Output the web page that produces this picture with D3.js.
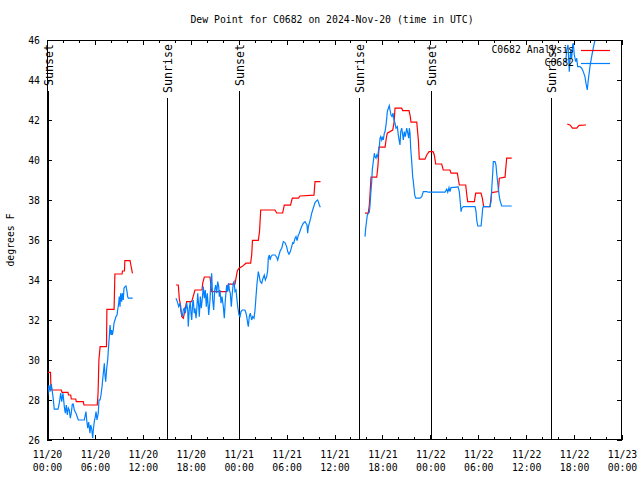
<!DOCTYPE html>
<html><head><meta charset="utf-8">
<script src="https://cdn.jsdelivr.net/npm/d3@7"></script>
<style>
body{margin:0;background:#fff}
svg{display:block}
text{font-family:"DejaVu Sans Mono","Liberation Mono",monospace;font-size:9.8px;fill:#000}
</style>
</head><body>
<svg id="chart" width="640" height="480"></svg>
<script>
// ---------------- data ----------------
const chartTitle = "Dew Point for C0682 on 2024-Nov-20 (time in UTC)";
const yAxisTitle = "degrees F";
const seriesNames = ["C0682 Analysis", "C0682"];
const seriesColors = ["#ff0000", "#0080ff"];
const startTimeUTC = "2024-11-20T00:00:00Z";
const spanHours = 72;
const yTickValues = [26, 28, 30, 32, 34, 36, 38, 40, 42, 44, 46];
const sunsetHours = [0.07, 24.05, 48.05];
const sunriseHours = [15.03, 39.07, 63.1];

// [hours since start, dew point F]
const analysisSeg1 = [[0.0,29.38],[0.44,29.38],[0.5,28.5],[1.79,28.5],[1.88,28.38],[2.63,28.38],[2.69,28.25],[2.97,28.25],[3.04,28.05],[3.6,28.05],[3.67,27.92],[4.55,27.92],[4.63,27.75],[6.3,27.75],[6.4,28.4],[6.5,30.0],[6.65,30.67],[7.45,30.67],[7.5,32.53],[8.4,32.53],[8.5,34.3],[9.4,34.3],[9.45,34.45],[9.7,34.45],[9.75,34.97],[10.4,34.97],[10.5,34.75],[10.7,34.33]];
const analysisSeg2 = [[16.15,33.75],[16.44,33.75],[16.57,33.04],[16.72,32.75],[16.87,32.17],[17.07,32.09],[17.28,32.5],[17.49,32.92],[18.12,32.92],[18.53,33.5],[19.41,33.5],[19.5,33.84],[19.7,34.15],[20.41,34.15],[20.62,33.42],[22.5,33.42],[22.7,33.79],[23.54,33.79],[23.67,34.1],[23.83,34.45],[24.04,34.59],[24.42,34.67],[24.92,34.84],[25.5,34.84],[25.63,35.25],[25.73,35.98],[26.46,35.98],[26.61,36.42],[26.76,37.5],[28.55,37.5],[28.76,37.35],[29.51,37.35],[29.71,37.74],[30.49,37.74],[30.72,38.09],[31.49,38.09],[31.68,38.2],[33.43,38.24],[33.56,38.92],[34.25,38.92]];
const analysisSeg3 = [[39.82,37.34],[40.23,37.34],[40.36,37.75],[40.48,38.5],[40.57,39.14],[41.29,39.14],[41.45,39.75],[41.57,40.64],[42.33,40.64],[42.49,41.1],[42.61,41.34],[43.29,41.5],[43.45,41.84],[43.58,42.59],[44.42,42.59],[44.54,42.47],[45.33,42.47],[45.46,42.25],[45.58,41.89],[46.3,41.89],[46.5,41.0],[46.62,40.04],[47.33,40.04],[47.55,40.25],[47.84,40.42],[48.34,40.42],[48.5,40.25],[48.67,39.8],[49.42,39.8],[49.62,39.5],[50.46,39.5],[50.59,39.34],[51.38,39.34],[51.63,38.75],[52.43,38.75],[52.59,38.17],[52.68,37.92],[53.51,37.92],[53.68,38.34],[54.35,38.34],[54.51,38.09],[54.68,37.67],[55.47,37.67],[55.68,38.37],[56.51,38.42],[56.64,39.09],[57.35,39.14],[57.56,40.09],[58.19,40.09]];
const analysisSeg4 = [[65.15,41.79],[65.49,41.75],[65.8,41.59],[66.33,41.59],[66.62,41.73],[67.5,41.75]];

const obsSeg1 = [[0.04,28.1],[0.25,28.75],[0.38,28.42],[0.54,28.8],[0.75,28.17],[0.91,27.54],[1.38,27.54],[1.5,27.75],[1.72,28.34],[1.84,27.92],[2.0,28.34],[2.17,27.67],[2.29,27.34],[2.42,27.75],[2.54,27.25],[2.67,27.6],[2.79,27.5],[2.92,27.09],[3.04,27.35],[3.17,27.79],[3.29,27.79],[3.42,27.5],[3.63,27.34],[3.92,27.0],[4.67,27.0],[4.88,27.42],[4.97,27.0],[5.1,26.59],[5.22,26.9],[5.38,26.34],[5.47,26.75],[5.6,26.55],[5.72,26.09],[5.8,26.5],[5.92,26.92],[6.05,27.17],[6.14,27.42],[6.26,27.0],[6.42,27.34],[6.51,28.0],[6.64,28.0],[6.76,28.25],[6.89,28.67],[6.97,29.0],[7.05,29.34],[7.18,29.84],[7.26,29.25],[7.35,28.92],[7.48,29.6],[7.6,30.0],[7.68,30.5],[7.8,31.17],[7.89,31.75],[8.01,31.25],[8.1,31.5],[8.18,31.25],[8.3,31.5],[8.39,31.84],[8.51,32.0],[8.64,32.17],[8.77,32.25],[8.85,32.5],[8.98,32.84],[9.05,33.17],[9.14,32.67],[9.23,33.34],[9.35,32.92],[9.43,33.34],[9.55,33.0],[9.64,33.59],[9.77,33.67],[9.89,33.7],[10.02,33.42],[10.1,33.17],[10.18,33.09],[10.73,33.09]];
const obsSeg2 = [[16.15,33.09],[16.32,32.92],[16.49,32.67],[16.65,32.84],[16.78,32.42],[16.94,32.17],[17.07,32.5],[17.19,32.59],[17.32,32.34],[17.49,32.84],[17.62,32.5],[17.69,31.67],[17.82,32.59],[17.94,32.92],[18.03,32.34],[18.12,32.0],[18.24,32.84],[18.32,33.0],[18.44,32.34],[18.53,32.59],[18.66,32.09],[18.75,32.5],[18.87,33.34],[19.0,32.67],[19.07,32.17],[19.2,33.17],[19.32,32.59],[19.45,33.09],[19.57,33.67],[19.7,33.09],[19.82,33.5],[19.95,32.67],[20.07,33.34],[20.25,32.25],[20.41,33.0],[20.5,33.75],[20.62,34.34],[20.75,33.0],[20.87,32.5],[21.0,33.5],[21.12,33.75],[21.25,33.34],[21.37,33.92],[21.5,33.67],[21.58,33.17],[21.66,33.5],[21.79,32.84],[21.91,33.17],[22.08,32.67],[22.2,32.09],[22.33,33.0],[22.5,33.75],[22.63,33.42],[22.75,33.84],[22.83,33.5],[22.95,33.34],[23.08,32.67],[23.2,33.34],[23.33,33.84],[23.42,33.92],[23.54,33.42],[23.67,33.5],[23.75,33.17],[23.88,32.67],[24.04,32.25],[24.17,32.17],[24.29,32.42],[24.46,32.5],[24.79,32.5],[24.92,32.34],[25.01,32.17],[25.13,31.84],[25.21,31.67],[25.33,32.17],[25.46,32.34],[25.63,32.0],[25.76,32.17],[25.92,32.09],[26.05,32.5],[26.17,33.17],[26.3,33.84],[26.46,34.42],[26.59,34.17],[26.71,33.92],[26.89,33.84],[27.05,34.09],[27.21,34.25],[27.34,34.0],[27.51,34.17],[27.64,34.5],[27.71,35.09],[27.84,35.25],[27.93,35.0],[28.05,35.17],[28.21,35.25],[28.55,35.25],[28.76,35.14],[28.89,35.0],[29.05,35.25],[29.21,35.47],[29.39,35.59],[29.59,35.92],[29.8,35.87],[30.01,35.67],[30.14,35.42],[30.3,35.29],[30.47,35.42],[30.64,35.67],[30.77,35.87],[30.89,35.84],[31.06,36.09],[31.18,36.17],[31.31,35.97],[31.47,36.25],[31.6,36.34],[31.72,36.5],[31.89,36.67],[32.09,36.84],[32.31,36.92],[32.43,36.84],[32.56,36.75],[32.64,36.34],[32.72,36.64],[32.85,36.84],[33.02,37.09],[33.15,37.34],[33.27,37.5],[33.43,37.7],[33.56,37.87],[33.77,37.97],[33.89,38.0],[33.97,37.92],[34.1,37.75],[34.22,37.64]];
const obsSeg3 = [[39.82,36.17],[39.91,36.6],[40.03,37.0],[40.11,37.25],[40.23,37.34],[40.36,37.39],[40.45,37.75],[40.53,38.25],[40.66,38.92],[40.73,39.5],[40.86,39.92],[40.99,40.34],[41.07,40.17],[41.2,40.09],[41.29,40.25],[41.41,40.17],[41.49,40.42],[41.62,40.67],[41.7,41.09],[41.79,41.17],[41.91,41.0],[42.04,41.17],[42.11,41.0],[42.24,41.34],[42.33,41.42],[42.45,41.75],[42.54,42.09],[42.61,42.42],[42.74,42.59],[42.86,42.72],[42.95,42.5],[43.08,42.25],[43.2,42.17],[43.33,42.34],[43.45,42.0],[43.58,41.84],[43.7,41.59],[43.87,41.67],[43.99,41.25],[44.12,40.92],[44.2,40.75],[44.29,41.42],[44.42,41.59],[44.54,41.25],[44.62,41.0],[44.74,41.42],[44.87,41.17],[45.04,41.59],[45.17,41.34],[45.29,41.09],[45.37,41.59],[45.46,41.34],[45.54,40.59],[45.67,39.92],[45.79,39.17],[45.87,38.92],[45.96,38.59],[46.04,38.25],[46.17,38.09],[46.71,38.09],[46.92,38.17],[47.12,38.42],[47.55,38.42],[47.75,38.39],[49.84,38.39],[50.05,38.54],[50.18,38.39],[50.34,38.62],[50.46,38.42],[50.59,38.62],[51.3,38.64],[51.46,38.67],[51.63,38.42],[51.76,37.84],[51.85,37.42],[51.94,37.59],[52.14,37.67],[53.6,37.67],[53.72,37.42],[53.81,37.0],[53.94,36.7],[54.35,36.7],[54.43,37.0],[54.56,37.59],[54.64,37.67],[55.47,37.67],[55.6,37.92],[55.68,38.5],[55.81,39.34],[55.89,39.92],[56.1,39.92],[56.22,39.75],[56.31,39.34],[56.44,38.84],[56.51,38.59],[56.64,38.17],[56.76,37.92],[56.94,37.7],[58.19,37.7]];
const obsSeg4 = [[64.95,44.85],[65.07,45.5],[65.24,45.75],[65.4,44.42],[65.57,45.5],[65.7,45.09],[65.82,45.75],[65.9,45.84],[66.03,45.25],[66.2,44.92],[66.33,45.09],[66.45,44.67],[66.74,44.67],[66.95,44.59],[67.15,44.42],[67.36,44.17],[67.49,43.84],[67.65,43.5],[67.78,44.0],[67.99,44.67],[68.2,45.17],[68.4,45.59],[68.62,46.0],[68.87,46.25],[69.25,46.2]];

const analysisSegments = [analysisSeg1, analysisSeg2, analysisSeg3, analysisSeg4];
const obsSegments = [obsSeg1, obsSeg2, obsSeg3, obsSeg4];

// ---------------- layout ----------------
const L = 47, R = 622, T = 40, B = 440;
const svg = d3.select("#chart");
const t0 = new Date(startTimeUTC);
const hourToDate = h => new Date(t0.getTime() + h * 3600e3);
const x = d3.scaleUtc().domain([t0, hourToDate(spanHours)]).range([L, R]);
const y = d3.scaleLinear().domain([26, 46]).range([B, T]);

svg.append("rect").attr("width", 640).attr("height", 480).attr("fill", "#fff");

svg.append("defs").append("clipPath").attr("id", "plotclip")
  .append("rect").attr("x", L).attr("y", T).attr("width", R - L).attr("height", B - T);

// axes
const fmtDay = d3.utcFormat("%m/%d"), fmtHM = d3.utcFormat("%H:%M");
const majorTicks = d3.utcHour.every(6).range(t0, hourToDate(spanHours + 0.01));
const minorTicks = d3.utcHour.every(2).range(t0, hourToDate(spanHours + 0.01));

const gx = svg.append("g").attr("transform", `translate(0,${B})`)
  .call(d3.axisBottom(x).tickValues(majorTicks).tickSize(-5).tickPadding(9).tickFormat(""));
gx.selectAll(".tick text").each(function(d){
  const t = d3.select(this).text(null).attr("dy", null).attr("y", 18);
  t.append("tspan").attr("x", 0).text(fmtDay(d));
  t.append("tspan").attr("x", 0).attr("y", 31).text(fmtHM(d));
});
svg.append("g").attr("transform", `translate(0,${B})`)
  .call(d3.axisBottom(x).tickValues(minorTicks).tickSize(-3).tickFormat(""));
svg.append("g").attr("transform", `translate(0,${T})`)
  .call(d3.axisTop(x).tickValues(majorTicks).tickSize(-5).tickFormat(""));
svg.append("g").attr("transform", `translate(0,${T})`)
  .call(d3.axisTop(x).tickValues(minorTicks).tickSize(-3).tickFormat(""));

svg.append("g").attr("transform", `translate(${L},0)`)
  .call(d3.axisLeft(y).tickValues(yTickValues).tickSize(-5).tickPadding(7).tickFormat(d3.format("d")));
svg.append("g").attr("transform", `translate(${R},0)`)
  .call(d3.axisRight(y).tickValues(yTickValues).tickSize(-5).tickFormat(""));

svg.selectAll(".domain").remove();
svg.selectAll(".tick line").attr("stroke", "#000").attr("shape-rendering", "crispEdges");
svg.selectAll(".tick text").attr("font-family", null).attr("font-size", null).attr("fill", "#000");

// sun lines
const sunEvents = sunsetHours.map(h => ({h, label: "Sunset"}))
  .concat(sunriseHours.map(h => ({h, label: "Sunrise"})));
const sunG = svg.append("g");
sunEvents.forEach(ev => {
  const xp = Math.round(x(hourToDate(ev.h))) + 0.5;
  const lab = sunG.append("text").attr("transform", `translate(${xp},${T + 4}) rotate(-90)`)
    .attr("text-anchor", "end").attr("dy", "0.35em").style("font-size", "11.6px").text(ev.label);
  const len = lab.node().getComputedTextLength();
  sunG.append("line").attr("x1", xp).attr("x2", xp).attr("y1", T + 4 + len + 5).attr("y2", B)
    .attr("stroke", "#000").attr("stroke-width", 1).attr("shape-rendering", "crispEdges");
});

// data lines
const line = d3.line().x(d => x(hourToDate(d[0]))).y(d => y(d[1]));
const dataG = svg.append("g").attr("clip-path", "url(#plotclip)");
analysisSegments.forEach(seg => dataG.append("path").attr("d", line(seg))
  .attr("fill", "none").attr("stroke", seriesColors[0]).attr("stroke-width", 1.2));
obsSegments.forEach(seg => dataG.append("path").attr("d", line(seg))
  .attr("fill", "none").attr("stroke", seriesColors[1]).attr("stroke-width", 1.2));

// border
svg.append("rect").attr("x", L + 0.5).attr("y", T + 0.5).attr("width", R - L - 1).attr("height", B - T - 1)
  .attr("fill", "none").attr("stroke", "#000").attr("shape-rendering", "crispEdges");

// title & axis title
svg.append("text").attr("x", 332).attr("y", 23).attr("text-anchor", "middle").text(chartTitle);
svg.append("text").attr("transform", "translate(11,240) rotate(-90)").attr("text-anchor", "middle")
  .attr("dy", "0.35em").text(yAxisTitle);

// legend
const legendRows = [50, 63];
seriesNames.forEach((name, i) => {
  svg.append("text").attr("x", 574).attr("y", legendRows[i]).attr("dy", "0.35em")
    .attr("text-anchor", "end").text(name);
  svg.append("line").attr("x1", 581).attr("x2", 610).attr("y1", legendRows[i] + 0.5).attr("y2", legendRows[i] + 0.5)
    .attr("stroke", seriesColors[i]).attr("stroke-width", 1.2);
});
</script>
</body></html>
